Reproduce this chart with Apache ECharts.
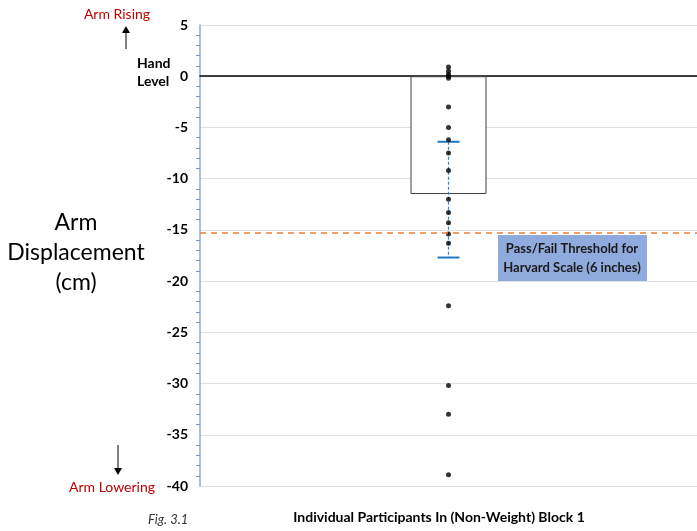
<!DOCTYPE html>
<html><head><meta charset="utf-8">
<script src="https://cdn.jsdelivr.net/npm/echarts@6/dist/echarts.min.js"></script>
<style>html,body{margin:0;padding:0;background:#fff}#c{width:697px;height:531px}</style>
</head><body><div id="c"></div>
<script>
const categories = ['Block 1'];
const barValues = [-11.5];
const participantValues = [0.9, 0.5, 0.2, 0.0, -0.2, -3.0, -5.0, -6.2, -7.5, -9.2, -12.0, -13.3, -14.3, -15.4, -16.3, -22.4, -30.2, -33.0, -38.9];
const markerValue = [-6.4];
const errorLow = [-17.7];
const thresholdValue = -15.24;
const yTicks = {min: -40, max: 5, interval: 5};

const FONT = 'Lato, "Open Sans", sans-serif';
const chart = echarts.init(document.getElementById('c'), null, {renderer: 'canvas'});
chart.setOption({
  animation: false,
  backgroundColor: '#fff',
  grid: {left: 200, right: 0, top: 25, bottom: 45},
  xAxis: {
    type: 'category', data: categories,
    axisLine: {onZero: true, lineStyle: {color: '#000', width: 1.5}},
    axisTick: {show: false}, axisLabel: {show: false}, splitLine: {show: false}
  },
  yAxis: {
    type: 'value', min: yTicks.min, max: yTicks.max, interval: yTicks.interval,
    axisLine: {show: true, onZero: false, lineStyle: {color: '#8faadc', width: 1.5}},
    axisTick: {show: false},
    minorTick: {show: true, splitNumber: 5, length: 4, lineStyle: {color: '#6f97d8', width: 1}},
    axisLabel: {color: '#000', fontWeight: 'bold', fontSize: 14, fontFamily: FONT, margin: 12},
    splitLine: {lineStyle: {color: '#e0e0e0', width: 1}}
  },
  series: [
    {
      type: 'bar', data: barValues, barWidth: 76,
      itemStyle: {color: '#fff', borderColor: '#404040', borderWidth: 1},
      z: 1,
      markLine: {
        silent: true, symbol: ['none', 'none'], label: {show: false},
        lineStyle: {color: '#ed7d31', type: [6, 5], width: 1.5},
        data: [{yAxis: thresholdValue}]
      }
    },
    {
      type: 'custom', z: 3,
      data: markerValue.map((m, i) => [i, m, errorLow[i]]),
      renderItem: function (params, api) {
        const top = api.coord([api.value(0), api.value(1)]);
        const bot = api.coord([api.value(0), api.value(2)]);
        const st = {stroke: '#1f77c4', lineWidth: 2};
        return {type: 'group', children: [
          {type: 'line', shape: {x1: top[0], y1: top[1], x2: bot[0], y2: bot[1]}, style: {stroke: '#2e86d0', lineWidth: 1.2, lineDash: [3, 2]}},
          {type: 'line', shape: {x1: top[0] - 11, y1: top[1], x2: top[0] + 11, y2: top[1]}, style: st},
          {type: 'line', shape: {x1: bot[0] - 11, y1: bot[1], x2: bot[0] + 11, y2: bot[1]}, style: st}
        ]};
      }
    },
    {
      type: 'scatter', z: 4, symbolSize: 5,
      itemStyle: {color: '#000'},
      data: participantValues.map(v => [0, v])
    }
  ],
  graphic: [
    {type: 'text', x: 117, y: 14, style: {text: 'Arm Rising', fill: '#c00000', font: '14px ' + FONT, align: 'center', verticalAlign: 'middle'}},
    {type: 'line', shape: {x1: 126, y1: 49, x2: 126, y2: 31}, style: {stroke: '#000', lineWidth: 1}},
    {type: 'polygon', shape: {points: [[122, 33], [130, 33], [126, 26]]}, style: {fill: '#000'}},
    {type: 'text', x: 137, y: 72, style: {text: 'Hand\nLevel', fill: '#000', font: 'bold 14px ' + FONT, verticalAlign: 'middle', lineHeight: 18}},
    {type: 'text', x: 76, y: 253, style: {text: 'Arm\nDisplacement\n(cm)', fill: '#000', font: '23px ' + FONT, align: 'center', verticalAlign: 'middle', lineHeight: 30}},
    {type: 'line', shape: {x1: 118, y1: 445, x2: 118, y2: 470}, style: {stroke: '#000', lineWidth: 1}},
    {type: 'polygon', shape: {points: [[114, 468], [122, 468], [118, 475]]}, style: {fill: '#000'}},
    {type: 'text', x: 112, y: 487, style: {text: 'Arm Lowering', fill: '#c00000', font: '14px ' + FONT, align: 'center', verticalAlign: 'middle'}},
    {type: 'text', x: 148, y: 520, style: {text: 'Fig. 3.1', fill: '#333', font: 'italic 13px ' + FONT, verticalAlign: 'middle'}},
    {type: 'text', x: 439, y: 517, style: {text: 'Individual Participants In (Non-Weight) Block 1', fill: '#000', font: 'bold 14px ' + FONT, align: 'center', verticalAlign: 'middle'}},
    {type: 'rect', shape: {x: 498, y: 235, width: 149, height: 46}, style: {fill: '#8faadc'}},
    {type: 'text', x: 572, y: 258, style: {text: 'Pass/Fail Threshold for\nHarvard Scale (6 inches)', fill: '#1a1a1a', font: 'bold 13px ' + FONT, align: 'center', verticalAlign: 'middle', lineHeight: 19}}
  ]
});
</script></body></html>
